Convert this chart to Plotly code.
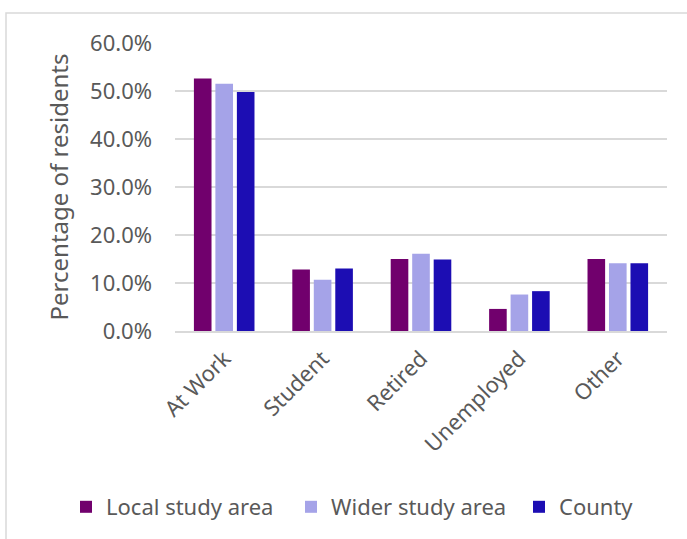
import plotly.graph_objects as go

# Economic activity of residents, share by area
categories = ["At Work", "Student", "Retired", "Unemployed", "Other"]
local_study_area = [0.526, 0.128, 0.150, 0.046, 0.150]
wider_study_area = [0.515, 0.107, 0.161, 0.076, 0.141]
county = [0.498, 0.130, 0.149, 0.083, 0.141]

y_ticks = [0.0, 0.1, 0.2, 0.3, 0.4, 0.5, 0.6]
y_tick_labels = ["0.0%", "10.0%", "20.0%", "30.0%", "40.0%", "50.0%", "60.0%"]

series = [
    ("Local study area", local_study_area, "#71006d"),
    ("Wider study area", wider_study_area, "#a5a3e8"),
    ("County", county, "#1c0db3"),
]

FONT = "Noto Sans"
TEXT = "#595959"

W, H = 687, 539
ml, mr, mt, mb = 175, 20, 43, 208
pw, ph = W - ml - mr, H - mt - mb


def px_x(x):
    return (x - ml) / pw


def px_y(y):
    return (H - mb - y) / ph


# one legend box per series so the entries can be spaced freely
legend_ids = ["legend", "legend2", "legend3"]
legend_left = [66, 291, 519]

fig = go.Figure()
for (name, values, colour), lid in zip(series, legend_ids):
    fig.add_trace(go.Bar(
        name=name, x=categories, y=values, legend=lid,
        marker=dict(color=colour, line=dict(width=0)),
    ))

legend_style = dict(
    orientation="h", xanchor="left", yanchor="middle",
    y=px_y(507), font=dict(family=FONT, size=22, color=TEXT),
    itemwidth=30, bgcolor="rgba(0,0,0,0)",
)
legends = {lid: dict(legend_style, x=px_x(left))
           for lid, left in zip(legend_ids, legend_left)}

fig.update_layout(
    width=W, height=H,
    margin=dict(l=ml, r=mr, t=mt, b=mb, autoexpand=False),
    paper_bgcolor="white", plot_bgcolor="white",
    barmode="group", bargap=0.345, bargroupgap=0.18,
    font=dict(family=FONT, color=TEXT, size=22),
    showlegend=True,
    xaxis=dict(
        tickangle=-45, showgrid=False, showline=True,
        linecolor="#d9d9d9", linewidth=2, ticks="",
        ticklabelstandoff=4,
        tickfont=dict(family=FONT, size=22, color=TEXT),
    ),
    yaxis=dict(
        range=[0, 0.6], tickvals=y_ticks, ticktext=y_tick_labels,
        showgrid=True, gridcolor="#d9d9d9", gridwidth=2,
        zeroline=False, showline=False, ticks="",
        ticklabelstandoff=22,
        tickfont=dict(family=FONT, size=22, color=TEXT),
        title=dict(text="Percentage of residents",
                   font=dict(family=FONT, size=24, color=TEXT), standoff=14),
    ),
    shapes=[dict(
        type="rect", xref="paper", yref="paper",
        x0=px_x(6), x1=px_x(700), y0=px_y(560), y1=px_y(13),
        line=dict(color="#d9d9d9", width=1.5), fillcolor="rgba(0,0,0,0)",
        layer="below",
    )],
    **legends,
)

fig.write_html("out.html")
